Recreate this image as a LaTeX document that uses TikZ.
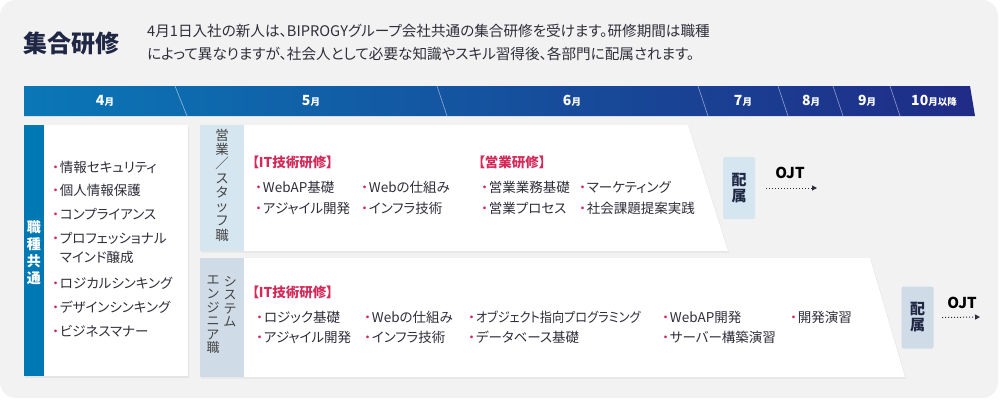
\documentclass[tikz,border=0pt]{standalone}
\usepackage{fontspec}
\setmainfont{Noto Sans CJK JP}[RawFeature=+palt]
\usetikzlibrary{shadows,arrows.meta}

\definecolor{bggray}{HTML}{F2F2F2}
\definecolor{barL}{HTML}{0A77B6}
\definecolor{barM}{HTML}{0E63AA}
\definecolor{barR}{HTML}{202B86}
\definecolor{commonblue}{HTML}{0078B4}
\definecolor{salesstrip}{HTML}{D6E6F0}
\definecolor{engstrip}{HTML}{CFDBE6}
\definecolor{accent}{HTML}{D42A5A}
\definecolor{textdark}{HTML}{2E2E3A}
\definecolor{labelgray}{HTML}{444444}
\definecolor{navy}{HTML}{1F2744}

\newcommand{\bul}{\textcolor{accent}{・}\hspace{1pt}}
\newcommand{\mon}[2][]{{\fontsize{14}{14}\selectfont #2}{\fontsize{9.5}{9.5}\selectfont 月#1}}

\tikzset{
    desc/.style={anchor=base west, inner sep=0pt, text=textdark, font=\fontsize{14.6}{16}\selectfont},
    month/.style={inner sep=0pt, text=white, font=\bfseries},
    monthsep/.style={draw=white, draw opacity=0.55, line width=0.6pt},
    card/.style={fill=white, drop shadow={opacity=0.12, shadow xshift=1pt, shadow yshift=-1.5pt}},
    vlabel/.style={inner sep=0pt, align=center, text=labelgray, font=\fontsize{13}{13.6}\selectfont},
    item/.style={anchor=base west, inner sep=0pt, text=textdark, font=\fontsize{13.5}{16}\selectfont},
    head/.style={anchor=base west, inner sep=0pt, text=accent, font=\fontsize{13.5}{16}\selectfont\bfseries},
    assign/.style={inner sep=0pt, minimum width=32pt, minimum height=62pt, rounded corners=2pt,
        align=center, text=navy, font=\fontsize{15}{16}\selectfont\bfseries},
    ojt/.style={inner sep=0pt, font=\fontsize{15}{15}\selectfont\bfseries},
    ojtarrow/.style={draw=textdark, line width=1pt, dotted, -{Triangle[length=5pt,width=5pt]}}
}

\begin{document}
\begin{tikzpicture}[x=1pt,y=-1pt]
    \useasboundingbox (0,0) rectangle (1000,400);
    \fill[white] (0,0) rectangle (1000,400);
    \fill[bggray, rounded corners=16pt] (0,0) rectangle (998,398);

    % title and lead text
    \node[anchor=base west, inner sep=0pt, text=navy, font=\fontsize{24}{24}\selectfont\bfseries] (title) at (23,52) {集合研修};
    \node[desc] (desc1) at (147,36.5) {4月1日入社の新人は、BIPROGYグループ会社共通の集合研修を受けます。研修期間は職種};
    \node[desc] (desc2) at (147,59.5) {によって異なりますが、社会人として必要な知識やスキル習得後、各部門に配属されます。};

    % month bar
    \shade[left color=barL, middle color=barM, right color=barR] (24,86) -- (970,86) -- (975,116) -- (24,116) -- cycle;
    \draw[monthsep] (175,86) -- (187,116);
    \draw[monthsep] (437,86) -- (447,116);
    \draw[monthsep] (698,86) -- (708,116);
    \draw[monthsep] (778,86) -- (788,116);
    \draw[monthsep] (833,86) -- (843,116);
    \draw[monthsep] (890,86) -- (900,116);

    \node[month] (m4) at (105,101) {\mon{4}};
    \node[month] (m5) at (311,101) {\mon{5}};
    \node[month] (m6) at (572,101) {\mon{6}};
    \node[month] (m7) at (743,101) {\mon{7}};
    \node[month] (m8) at (811,101) {\mon{8}};
    \node[month] (m9) at (867,101) {\mon{9}};
    \node[month] (m10) at (934,101) {\mon[以降]{10}};

    % common training
    \fill[card] (24,125) rectangle (188,376);
    \fill[commonblue] (24,125) rectangle (44,376);
    \node[vlabel, text=white, font=\fontsize{14}{17}\selectfont\bfseries] (commonlbl) at (34,253) {職\\種\\共\\通};

    \node[item] (c1) at (52,172) {\bul 情報セキュリティ};
    \node[item] (c2) at (52,195) {\bul 個人情報保護};
    \node[item] (c3) at (52,219) {\bul コンプライアンス};
    \node[item] (c4) at (52,243) {\bul\begin{tabular}[t]{@{}l@{}}プロフェッショナル\\[3pt]マインド醸成\end{tabular}};
    \node[item] (c5) at (52,288) {\bul ロジカルシンキング};
    \node[item] (c6) at (52,312) {\bul デザインシンキング};
    \node[item] (c7) at (52,336) {\bul ビジネスマナー};

    % sales / staff
    \fill[card] (200,125) -- (688,125) -- (728,251) -- (200,251) -- cycle;
    \fill[salesstrip] (200,125) rectangle (244,251);
    \node[vlabel, font=\fontsize{13.5}{14.3}\selectfont] (saleslbl) at (222,185) {営\\業\\／\\ス\\タ\\ッ\\フ\\職};

    \node[head] (sh1) at (252,167) {【IT技術研修】};
    \node[item] (s1) at (255,192) {\bul WebAP基礎};
    \node[item] (s2) at (255,213) {\bul アジャイル開発};
    \node[item] (s3) at (361,192) {\bul Webの仕組み};
    \node[item] (s4) at (361,213) {\bul インフラ技術};
    \node[head] (sh2) at (478,167) {【営業研修】};
    \node[item] (s5) at (481,192) {\bul 営業業務基礎};
    \node[item] (s6) at (481,213) {\bul 営業プロセス};
    \node[item] (s7) at (579,192) {\bul マーケティング};
    \node[item] (s8) at (579,213) {\bul 社会課題提案実践};

    \node[assign, fill=salesstrip] (hz1) at (739,188) {配\\属};
    \node[ojt] (ojt1) at (790,173) {OJT};
    \coordinate (ojt1end) at (817,188);
    \draw[ojtarrow] ([xshift=11pt]hz1.east) -- (ojt1end);

    % system engineer
    \fill[card] (200,258) -- (870,258) -- (905,377) -- (200,377) -- cycle;
    \fill[engstrip] (200,258) rectangle (244,377);
    \node[vlabel, anchor=north] (englbl1) at (230,276) {シ\\ス\\テ\\ム};
    \node[vlabel, anchor=north] (englbl2) at (213,276) {エ\\ン\\ジ\\ニ\\ア\\職};

    \node[head] (eh1) at (252,297) {【IT技術研修】};
    \node[item] (e1) at (256,322) {\bul ロジック基礎};
    \node[item] (e2) at (256,342) {\bul アジャイル開発};
    \node[item] (e3) at (364,322) {\bul Webの仕組み};
    \node[item] (e4) at (364,342) {\bul インフラ技術};
    \node[item] (e5) at (468,322) {\bul\scalebox{0.9}[1]{オブジェクト指向プログラミング}};
    \node[item] (e6) at (468,342) {\bul データベース基礎};
    \node[item] (e7) at (662,322) {\bul WebAP開発};
    \node[item] (e8) at (662,342) {\bul サーバー構築演習};
    \node[item] (e9) at (790,322) {\bul 開発演習};

    \node[assign, fill=engstrip] (hz2) at (917.5,317.5) {配\\属};
    \node[ojt] (ojt2) at (962,303) {OJT};
    \coordinate (ojt2end) at (980,317);
    \draw[ojtarrow] ([xshift=8.5pt]hz2.east) -- (ojt2end);
\end{tikzpicture}
\end{document}
